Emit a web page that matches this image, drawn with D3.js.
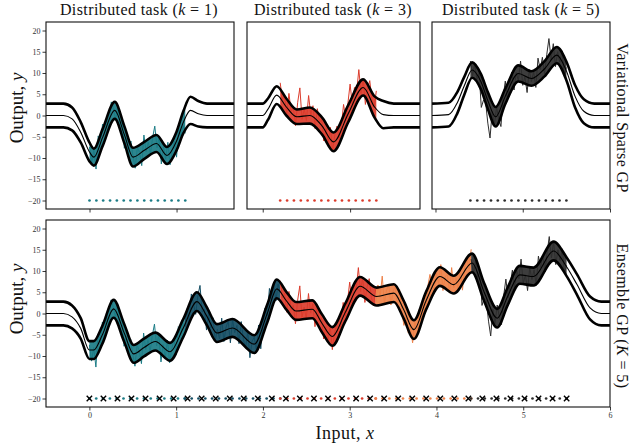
<!DOCTYPE html>
<html><head><meta charset="utf-8">
<script src="https://cdn.jsdelivr.net/npm/d3@7"></script>
<style>body{margin:0;background:#fff}svg{display:block}</style>
</head><body><svg id="c" width="632" height="444"></svg>
<script>
// ---------- data ----------
const taskColors = ["#1b7c86", "#134d63", "#dc3c2c", "#ee8148", "#2d2d2d"];
const taskStart = [0, 1.1, 2.2, 3.3, 4.4];
const taskWidth = 1.1;
const dataStep = 0.025;
const task1Y = [-7.4,-11.2,-8.0,-12.6,-4.8,-6.9,-2.0,-4.1,-0.7,-3.1,3.2,1.5,-0.9,2.4,-2.4,-1.3,-7.7,-5.3,-8.9,-6.0,-9.6,-12.4,-7.4,-8.7,-11.8,-4.6,-8.5,-6.3,-9.0,-5.2,-2.5,-7.6,-5.0,-11.4,-7.3,-10.3,-6.3,-11.6,-8.3,-6.0,-9.8,-3.1,-4.9,-2.3,-4.2];
const task2Y = [-3.0,1.1,-2.0,4.6,2.2,-0.2,4.2,6.6,0.3,1.0,-3.9,0.1,-3.4,-1.0,-6.5,-3.7,-6.0,-1.1,-6.6,-3.2,-1.8,-6.9,-1.4,-4.5,-2.8,-7.1,-1.9,-6.1,-8.1,-4.2,-10.4,-6.5,-5.6,-8.6,-2.7,-8.3,-2.5,1.3,-0.5,5.9,3.2,6.7,3.0,6.9,4.9];
const task3Y = [7.7,3.7,4.8,0.3,5.2,0.9,1.9,-2.4,3.1,6.5,-0.9,1.5,-1.2,4.7,0.1,2.3,-3.1,1.6,-1.6,-1.0,-6.0,-3.1,-6.3,-2.8,-8.5,-4.6,-2.5,-5.6,-2.4,2.6,-0.7,2.9,7.4,2.5,6.6,5.6,10.8,5.2,8.5,2.6,6.2,8.2,3.8,1.8,5.8];
const task4Y = [2.8,6.7,3.8,8.8,2.4,5.5,6.8,2.0,5.2,6.5,1.9,5.6,0.4,-2.8,-0.5,-4.6,-3.3,-6.9,-2.0,-3.7,0.9,-1.5,2.1,0.3,6.4,9.2,6.5,5.6,9.5,7.1,11.5,5.4,8.6,9.2,4.8,10.8,6.0,8.4,5.6,10.6,5.5,10.8,12.8,10.4,15.1];
const task5Y = [12.8,9.4,12.2,8.5,10.0,1.9,3.6,3.0,-1.8,-5.3,1.0,-2.4,2.0,-0.9,-2.6,4.2,8.1,3.7,7.0,10.2,6.0,10.1,8.2,12.8,7.1,9.1,5.4,10.8,8.0,10.3,6.6,13.5,10.8,13.7,9.8,14.3,18.1,13.1,16.9,11.5,15.0,12.5,15.2,9.5,11.3];
const taskY = [task1Y, task2Y, task3Y, task4Y, task5Y];

const inducingOffsets = [0,0.079,0.157,0.236,0.314,0.393,0.471,0.55,0.629,0.707,0.786,0.864,0.943,1.021,1.1];
const ensembleInducing = [0,0.162,0.324,0.485,0.647,0.809,0.971,1.132,1.294,1.456,1.618,1.779,1.941,2.103,2.265,2.426,2.588,2.75,2.912,3.074,3.235,3.397,3.559,3.721,3.882,4.044,4.206,4.368,4.529,4.691,4.853,5.015,5.176,5.338,5.5];
const inducingY = -20;

// fitted GP (mean and half-width of band) per panel
const fitK1X    = [-0.5,-0.3,-0.2,-0.1,0,0.05,0.15,0.29,0.4,0.5,0.63,0.77,0.89,1.0,1.08,1.16,1.25,1.35,1.66];
const fitK1Mean = [0,0,-0.8,-4,-8.6,-9.8,-5.2,1.2,-4.5,-9.8,-8.2,-6.6,-9.4,-6.0,-1.5,1.2,0.4,0,0];
const fitK1Hw   = [2.8,2.8,2.7,2.4,2.2,2.0,2.0,2.0,2.0,2.2,2.0,2.0,2.0,2.2,2.6,3.2,3.0,2.8,2.8];

const fitK3X    = [1.82,2.0,2.06,2.16,2.27,2.39,2.54,2.68,2.81,2.98,3.15,3.28,3.38,3.5,3.8];
const fitK3Mean = [0,0,1.5,4.8,2.0,-0.3,0,-2.5,-6.2,0.5,6.6,2.0,0.2,0,0];
const fitK3Hw   = [2.8,2.8,2.5,2.1,2.0,1.7,1.9,2.0,2.2,2.0,1.9,2.5,3.2,2.8,2.8];

const fitK5X    = [3.96,4.15,4.25,4.33,4.42,4.52,4.6,4.69,4.8,4.95,5.1,5.25,5.39,5.5,5.6,5.7,5.82,6.0];
const fitK5Mean = [0,0.2,3,7,10.7,8,3.5,-0.3,4.5,9.9,8.7,11,14.2,10.5,4.5,1,0,0];
const fitK5Hw   = [2.8,2.8,2.5,2.1,1.8,1.8,2.0,2.3,1.8,1.9,1.7,1.8,1.9,2.2,2.6,2.8,2.8,2.8];

const fitEnsX    = [-0.5,-0.3,-0.2,-0.1,0,0.05,0.15,0.28,0.4,0.51,0.63,0.76,0.93,1.08,1.24,1.35,1.47,1.65,1.9,2.05,2.16,2.27,2.38,2.57,2.68,2.8,2.95,3.12,3.31,3.51,3.62,3.74,3.88,4.04,4.2,4.41,4.55,4.7,4.82,4.96,5.12,5.35,5.5,5.62,5.77,5.9,6.0];
const fitEnsMean = [0,0,-0.8,-3.5,-8.6,-8.6,-5,1.1,-4.5,-9.5,-8,-6.6,-9,-3.5,2.8,-0.5,-4.6,-3.4,-7.2,0,5.8,3,0.6,1.0,-2.3,-5.4,0.3,6.4,4.0,4.8,1,-3.8,3,8.7,6.8,11.9,5,-1.1,4,9.1,8.7,14.7,11,6.8,1.3,0,0];
const fitEnsHw   = [2.8,2.8,2.7,2.4,2.1,2.1,2.1,2.1,2.1,2.1,2.1,2.1,2.1,2.1,2.2,2.1,2.1,2.1,2.1,2.1,2.2,2.1,2.1,2.1,2.1,2.2,2.1,2.2,2.1,2.1,2.1,2.2,2.1,2.2,2.1,2.2,2.1,2.2,2.1,2.1,2.1,2.2,2.2,2.4,2.7,2.8,2.8];

const yTicks = [-20,-15,-10,-5,0,5,10,15,20];
const xTicks = [0,1,2,3,4,5,6];
const yDomain = [-22, 22];

// ---------- drawing ----------
const svg = d3.select("#c");
const FONT = "'Liberation Serif','DejaVu Serif',serif";
let clipId = 0;

function drawPanel(box, xDomain, fit, tasks, opts) {
  const x = d3.scaleLinear().domain(xDomain).range([box.l, box.r]);
  const y = d3.scaleLinear().domain(yDomain).range([box.b, box.t]);
  const g = svg.append("g");
  const cid = "clip" + (clipId++);
  svg.append("defs").append("clipPath").attr("id", cid)
    .append("rect").attr("x", box.l).attr("y", box.t).attr("width", box.r - box.l).attr("height", box.b - box.t);
  const inner = g.append("g").attr("clip-path", `url(#${cid})`);

  const pts = (xs, sgn) => xs.map((xv, i) => [xv, fit.mean[i] + sgn * fit.hw[i]]);
  const curve = d3.curveMonotoneX;

  // band fill coloured per task
  tasks.forEach(t => {
    const tid = "tclip" + (clipId++);
    svg.append("defs").append("clipPath").attr("id", tid)
      .append("rect").attr("x", x(taskStart[t])).attr("y", box.t)
      .attr("width", x(taskStart[t] + taskWidth) - x(taskStart[t])).attr("height", box.b - box.t);
    const area = d3.area().curve(curve)
      .x((d, i) => x(fit.x[i])).y0((d, i) => y(fit.mean[i] - fit.hw[i])).y1((d, i) => y(fit.mean[i] + fit.hw[i]));
    inner.append("path").attr("clip-path", `url(#${tid})`)
      .attr("d", area(fit.x)).attr("fill", taskColors[t]).attr("opacity", 0.92);
  });

  // noisy data lines
  tasks.forEach(t => {
    const line = d3.line().x((d, i) => x(taskStart[t] + i * dataStep)).y(d => y(d));
    inner.append("path").attr("d", line(taskY[t])).attr("fill", "none")
      .attr("stroke", taskColors[t]).attr("stroke-width", 1).attr("stroke-linejoin", "miter");
  });

  // GP mean and bands
  const ln = d3.line().curve(curve).x(d => x(d[0])).y(d => y(d[1]));
  inner.append("path").attr("d", ln(pts(fit.x, 1))).attr("fill", "none").attr("stroke", "#000").attr("stroke-width", 2.6);
  inner.append("path").attr("d", ln(pts(fit.x, -1))).attr("fill", "none").attr("stroke", "#000").attr("stroke-width", 2.6);
  inner.append("path").attr("d", ln(pts(fit.x, 0))).attr("fill", "none").attr("stroke", "#000").attr("stroke-width", 1.1);

  // inducing points
  tasks.forEach(t => {
    inner.selectAll(null).data(inducingOffsets).enter().append("circle")
      .attr("cx", d => x(taskStart[t] + d)).attr("cy", y(inducingY)).attr("r", 1.35)
      .attr("fill", taskColors[t]);
  });
  if (opts.crosses) {
    inner.selectAll(null).data(ensembleInducing).enter().append("path")
      .attr("transform", d => `translate(${x(d)},${y(inducingY)})`)
      .attr("d", "M-2.7,-2.7L2.7,2.7M-2.7,2.7L2.7,-2.7")
      .attr("stroke", "#000").attr("stroke-width", 1.4).attr("fill", "none");
  }

  // axes
  const xt = xTicks.filter(v => v >= xDomain[0] - 1e-9 && v <= xDomain[1] + 1e-9);
  const xa = d3.axisBottom(x).tickValues(xt).tickSize(3.5).tickPadding(2)
    .tickFormat(opts.xLabels ? d3.format("d") : () => "");
  const gx = g.append("g").attr("transform", `translate(0,${box.b})`).call(xa);
  gx.select(".domain").remove();
  if (opts.yAxis) {
    const ya = d3.axisLeft(y).tickValues(yTicks).tickSize(3.5).tickPadding(2)
      .tickFormat(d => d < 0 ? "\u2212" + Math.abs(d) : d);
    const gy = g.append("g").attr("transform", `translate(${box.l},0)`).call(ya);
    gy.select(".domain").remove();
  }
  g.selectAll(".tick text").attr("font-family", FONT).attr("font-size", 8).attr("fill", "#333");
  g.selectAll(".tick line").attr("stroke", "#222").attr("stroke-width", 0.9);
  g.append("rect").attr("x", box.l).attr("y", box.t).attr("width", box.r - box.l).attr("height", box.b - box.t)
    .attr("fill", "none").attr("stroke", "#111").attr("stroke-width", 1.1);
  return { x, y };
}

const topT = 22, topB = 209, botT = 220, botB = 407;
const fitK1 = { x: fitK1X, mean: fitK1Mean, hw: fitK1Hw };
const fitK3 = { x: fitK3X, mean: fitK3Mean, hw: fitK3Hw };
const fitK5 = { x: fitK5X, mean: fitK5Mean, hw: fitK5Hw };
const fitEns = { x: fitEnsX, mean: fitEnsMean, hw: fitEnsHw };

drawPanel({ l: 46, r: 234, t: topT, b: topB }, [-0.5, 1.66], fitK1, [0], { yAxis: true, xLabels: false });
drawPanel({ l: 247, r: 420, t: topT, b: topB }, [1.82, 3.80], fitK3, [2], { yAxis: false, xLabels: false });
drawPanel({ l: 432, r: 610, t: topT, b: topB }, [3.96, 6.0], fitK5, [4], { yAxis: false, xLabels: false });
drawPanel({ l: 46, r: 610, t: botT, b: botB }, [-0.5, 6], fitEns, [0, 1, 2, 3, 4], { yAxis: true, xLabels: true, crosses: true });

// titles
const titles = [[139, "1"], [333, "3"], [521, "5"]];
titles.forEach(([cx, k]) => {
  const t = svg.append("text").attr("x", cx).attr("y", 15).attr("text-anchor", "middle")
    .attr("font-family", FONT).attr("font-size", 16).attr("letter-spacing", 0.4).attr("fill", "#111");
  t.append("tspan").text("Distributed task (");
  t.append("tspan").attr("font-style", "italic").text("k");
  t.append("tspan").text(" = " + k + ")");
});

// y labels
[[108], [299]].forEach(([cy]) => {
  const t = svg.append("text").attr("transform", `translate(23,${cy}) rotate(-90)`).attr("text-anchor", "middle")
    .attr("font-family", FONT).attr("font-size", 19).attr("fill", "#111");
  t.append("tspan").text("Output, ");
  t.append("tspan").attr("font-style", "italic").text("y");
});

// x label
{
  const t = svg.append("text").attr("x", 345).attr("y", 439).attr("text-anchor", "middle")
    .attr("font-family", FONT).attr("font-size", 18).attr("letter-spacing", 0.5).attr("fill", "#111");
  t.append("tspan").text("Input, ");
  t.append("tspan").attr("font-style", "italic").text("x");
}

// right labels
{
  svg.append("text").attr("transform", "translate(617,118) rotate(90)").attr("text-anchor", "middle")
    .attr("font-family", FONT).attr("font-size", 16).attr("letter-spacing", 0.4).attr("fill", "#111").text("Variational Sparse GP");
  const t2 = svg.append("text").attr("transform", "translate(617,316) rotate(90)").attr("text-anchor", "middle")
    .attr("font-family", FONT).attr("font-size", 16).attr("letter-spacing", 0.4).attr("fill", "#111");
  t2.append("tspan").text("Ensemble GP (");
  t2.append("tspan").attr("font-style", "italic").text("K");
  t2.append("tspan").text(" = 5)");
}
</script>
</body></html>
